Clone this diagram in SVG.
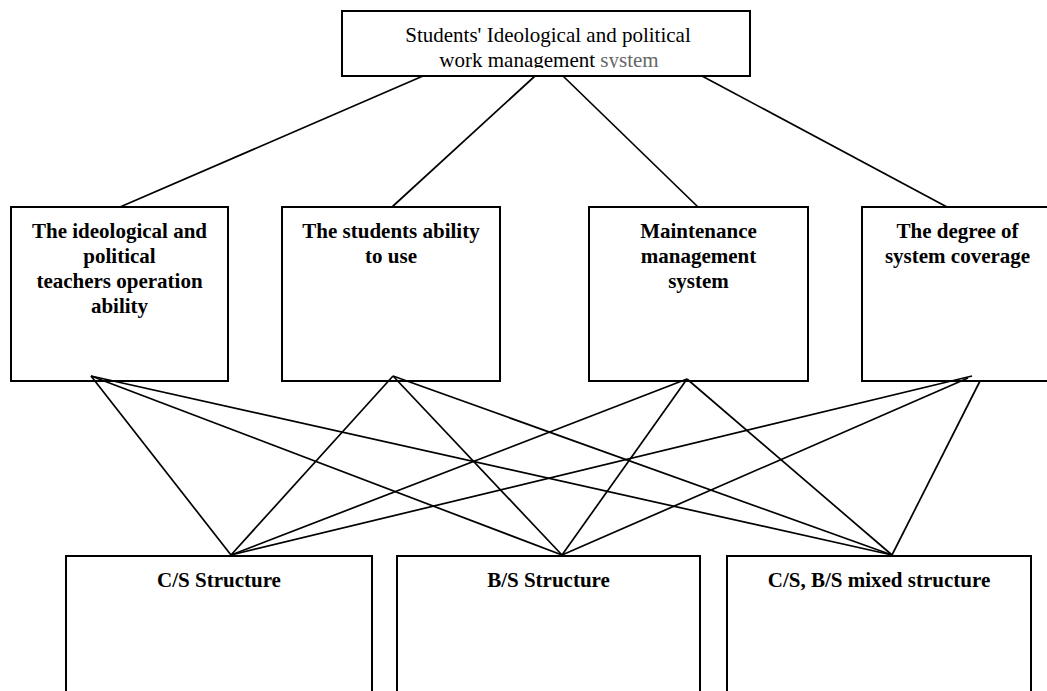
<svg xmlns="http://www.w3.org/2000/svg" width="1047" height="691" viewBox="0 0 1047 691">
<style>
.box{fill:#fff;stroke:#000;stroke-width:2}
.t{font-family:"Liberation Serif","Times New Roman",serif;font-size:21px;text-anchor:middle;fill:#000}
.b{font-family:"Liberation Serif","Times New Roman",serif;font-size:21px;font-weight:bold;text-anchor:middle;fill:#000}
.c line{stroke:#000;stroke-width:1.7}
</style>
<defs>
<clipPath id="topclip"><rect x="343" y="12" width="406" height="56"/></clipPath>
</defs>
<rect width="1047" height="691" fill="#fff"/>
<g id="top">
<rect class="box" x="342" y="11" width="408" height="65"/>
<g clip-path="url(#topclip)">
<text class="t" x="548" y="42">Students' Ideological and political</text>
<text class="t" x="549" y="67">work management <tspan fill="#666">system</tspan></text>
</g>
</g>
<g id="n1">
<rect class="box" x="11" y="207" width="217" height="174"/>
<text class="b" x="119.5" y="238">The ideological and</text>
<text class="b" x="119.5" y="263">political</text>
<text class="b" x="119.5" y="288">teachers operation</text>
<text class="b" x="119.5" y="313">ability</text>
</g>
<g id="n2">
<rect class="box" x="282" y="207" width="218" height="174"/>
<text class="b" x="391" y="238">The students ability</text>
<text class="b" x="391" y="263">to use</text>
</g>
<g id="n3">
<rect class="box" x="589" y="207" width="219" height="174"/>
<text class="b" x="698.5" y="238">Maintenance</text>
<text class="b" x="698.5" y="263">management</text>
<text class="b" x="698.5" y="288">system</text>
</g>
<g id="n4">
<rect class="box" x="862" y="207" width="200" height="174"/>
<text class="b" x="957.5" y="238">The degree of</text>
<text class="b" x="957.5" y="263">system coverage</text>
</g>
<g id="cs">
<rect class="box" x="66" y="556" width="306" height="150"/>
<text class="b" x="219" y="587">C/S Structure</text>
</g>
<g id="bs">
<rect class="box" x="397" y="556" width="303" height="150"/>
<text class="b" x="548.5" y="587">B/S Structure</text>
</g>
<g id="mixed">
<rect class="box" x="727" y="556" width="304" height="150"/>
<text class="b" x="879" y="587">C/S, B/S mixed structure</text>
</g>
<g id="connectors" class="c">
<line x1="423" y1="76" x2="120" y2="207"/>
<line x1="535" y1="76" x2="392" y2="207"/>
<line x1="563" y1="76" x2="698" y2="207"/>
<line x1="702" y1="76" x2="947" y2="207"/>
<line x1="91" y1="376" x2="231" y2="555"/>
<line x1="91" y1="376" x2="562" y2="555"/>
<line x1="91" y1="376" x2="892" y2="555"/>
<line x1="393" y1="376" x2="231" y2="555"/>
<line x1="393" y1="376" x2="562" y2="555"/>
<line x1="393" y1="376" x2="892" y2="555"/>
<line x1="687" y1="379" x2="231" y2="555"/>
<line x1="687" y1="379" x2="562" y2="555"/>
<line x1="687" y1="379" x2="892" y2="555"/>
<line x1="972" y1="376" x2="231" y2="555"/>
<line x1="968" y1="378" x2="562" y2="555"/>
<line x1="980" y1="381" x2="892" y2="555"/>
</g>
</svg>
